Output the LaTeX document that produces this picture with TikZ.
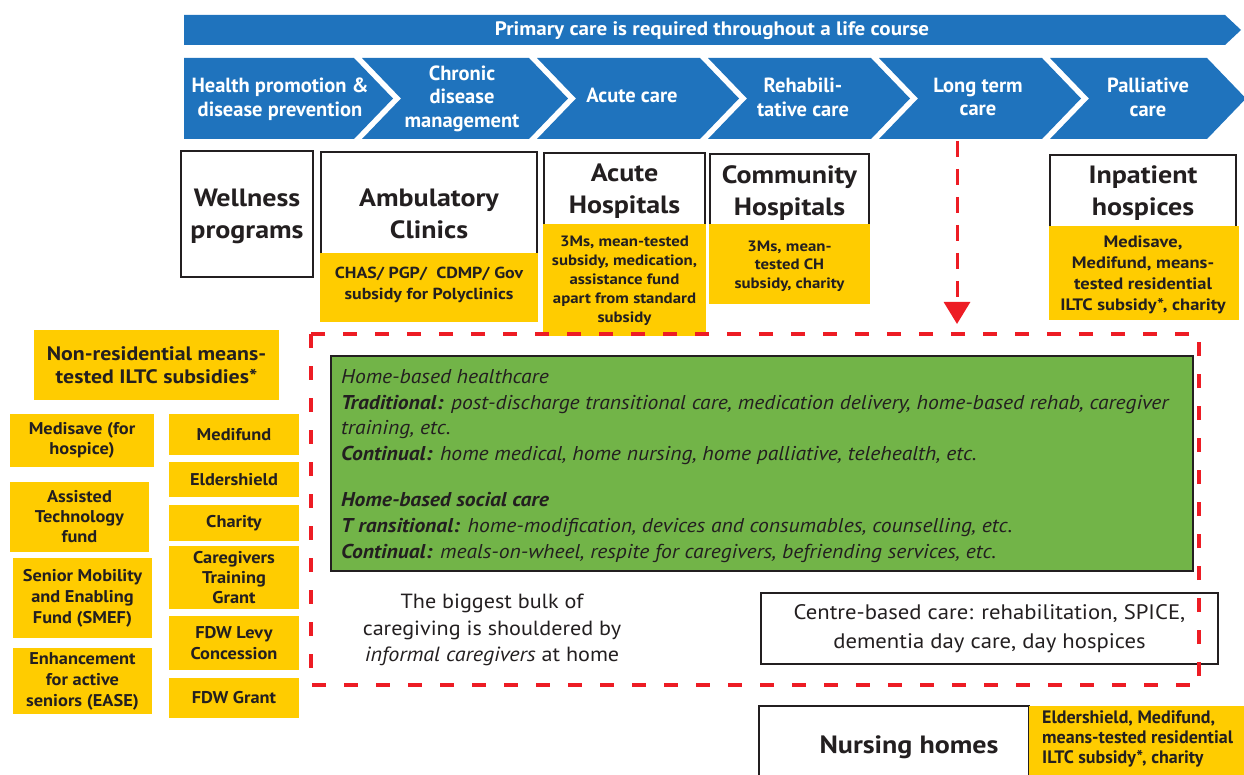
\documentclass[tikz,border=0pt]{standalone}
\usepackage{fontspec}
\setmainfont{PT Sans}
\newfontfamily\wfont[FakeStretch=1.12]{PT Sans}
\newfontfamily\mfont[FakeStretch=1.08]{PT Sans}
\usetikzlibrary{arrows.meta}
\definecolor{cblue}{RGB}{31,115,189}
\definecolor{cyel}{RGB}{255,204,0}
\definecolor{cgreen}{RGB}{114,180,72}
\definecolor{cred}{RGB}{237,28,36}
\definecolor{ctext}{RGB}{35,31,32}
\newcommand{\fs}[2]{\fontsize{#1}{#2}\selectfont}
\newcommand{\rbox}[7]{%
  \pgfmathsetmacro{\rbcx}{(#3+#5)/2}%
  \pgfmathsetmacro{\rbcy}{(#4+#6)/2}%
  \pgfmathsetmacro{\rbw}{#5-#3}%
  \pgfmathsetmacro{\rbh}{#6-#4}%
  \node[#2,minimum width=\rbw pt,minimum height=\rbh pt] (#1) at (\rbcx,\rbcy) {#7};%
}
\tikzset{
  chevshape/.style={fill=cblue},
  chevlabel/.style={text=white,font=\bfseries\fs{20.5}{23.5},align=center,inner sep=0pt},
  titlebox/.style={draw=ctext,line width=2.6pt,fill=white,inner sep=0pt},
  titletext/.style={text=ctext,font=\wfont\bfseries\fs{25}{32},align=center,inner sep=0pt},
  paybox/.style={fill=cyel,inner sep=0pt,text=ctext,align=center},
  paytext/.style={text=ctext,align=center,inner sep=0pt},
  greenbox/.style={fill=cgreen,draw=ctext,line width=2pt},
  gline/.style={anchor=base west,inner sep=0pt,text=ctext,font=\mfont\itshape\fs{20}{25}},
  reddash/.style={draw=cred,line width=4.5pt,dash pattern=on 14pt off 18pt},
}
\begin{document}
\begin{tikzpicture}[x=1pt,y=-1pt]
\useasboundingbox (0,0) rectangle (1244,775);
\clip (0,0) rectangle (1244,775);
% banner
\path[chevshape] (184,15) -- (1225,15) -- (1241,30) -- (1225,45) -- (184,45) -- cycle;
\node[text=white,font=\mfont\bfseries\fs{19.5}{22},anchor=base,inner sep=0pt] (banner) at (712,35.5) {Primary care is required throughout a life course};
% chevrons
\path[chevshape] (184,58) -- (354,58) -- (393,98.5) -- (354,139) -- (184,139) -- cycle;
\foreach \a/\b in {362/529,537/700,708/871,879/1042,1050/1207}{
  \path[chevshape] (\a,58) -- (\b,58) -- (\b+39,98.5) -- (\b,139) -- (\a,139) -- (\a+39,98.5) -- cycle;
}
\node[chevlabel] (c1) at (280,99.2) {Health promotion \&\\disease prevention};
\node[chevlabel] (c2) at (462,98.7) {Chronic\\disease\\management};
\node[chevlabel,anchor=base] (c3) at (632,103) {Acute care};
\node[chevlabel] (c4) at (803,97.2) {Rehabili-\\tative care};
\node[chevlabel] (c5) at (978,97.2) {Long term\\care};
\node[chevlabel] (c6) at (1148,97.2) {Palliative\\care};
% settings row
\rbox{wel}{titlebox}{181}{151}{313}{277}{}
\node[titletext] (welt) at (247,216) {Wellness\\programs};
\rbox{amb}{titlebox}{321}{152}{537}{255}{}
\rbox{ambp}{paybox}{319.7}{253}{538.3}{322}{}
\node[titletext] (ambt) at (429,213.4) {Ambulatory\\Clinics};
\node[paytext,font=\wfont\bfseries\fs{16}{21}] (ambpt) at (429,285.4) {CHAS/ PGP/\ \ CDMP/ Gov\\subsidy for Polyclinics};
\rbox{acu}{titlebox}{544}{153}{705}{226}{}
\rbox{acup}{paybox}{542.7}{224}{706.3}{336}{}
\node[titletext] (acut) at (624.5,191.2) {Acute\\Hospitals};
\node[paytext,font=\wfont\bfseries\fs{15}{19}] (acupt) at (624.5,280.6) {3Ms, mean-tested\\subsidy, medication,\\assistance fund\\apart from standard\\subsidy};
\rbox{com}{titlebox}{710}{154}{869}{226}{}
\rbox{comp}{paybox}{708.7}{224}{870.3}{304}{}
\node[titletext] (comt) at (789.5,193.2) {Community\\Hospitals};
\node[paytext,font=\wfont\bfseries\fs{15}{18.5}] (compt) at (789.5,266) {3Ms, mean-\\tested CH\\subsidy, charity};
\rbox{inp}{titlebox}{1050}{155}{1236}{228}{}
\rbox{inpp}{paybox}{1048.7}{226}{1238.5}{320}{}
\node[titletext] (inpt) at (1143,193.2) {Inpatient\\hospices};
\node[paytext,font=\wfont\bfseries\fs{16.5}{21}] (inppt) at (1143,274.4) {Medisave,\\Medifund, means-\\tested residential\\ILTC subsidy*, charity};
% left column
\rbox{nr}{paybox,font=\wfont\bfseries\fs{19.5}{23.5}}{34}{330}{279}{400}{Non-residential means-\\tested ILTC subsidies*}
\rbox{l1}{paybox,font=\mfont\bfseries\fs{17}{20}}{10}{414}{154}{467}{Medisave (for\\hospice)}
\rbox{l2}{paybox,font=\mfont\bfseries\fs{17}{20}}{10}{482}{149}{552}{Assisted\\Technology\\fund}
\rbox{l3}{paybox,font=\mfont\bfseries\fs{17}{21}}{13}{558}{152}{638}{Senior Mobility\\and Enabling\\Fund (SMEF)}
\rbox{l4}{paybox,font=\mfont\bfseries\fs{17}{21}}{13}{648}{152}{714}{Enhancement\\for active\\seniors (EASE)}
\rbox{r1}{paybox,font=\mfont\bfseries\fs{17}{20}}{169}{414}{299}{455}{Medifund}
\rbox{r2}{paybox,font=\mfont\bfseries\fs{17}{20}}{169}{462}{299}{497}{Eldershield}
\rbox{r3}{paybox,font=\mfont\bfseries\fs{17}{20}}{169}{505}{299}{541}{Charity}
\rbox{r4}{paybox,font=\mfont\bfseries\fs{17}{20}}{169}{546}{299}{609}{Caregivers\\Training\\Grant}
\rbox{r5}{paybox,font=\mfont\bfseries\fs{17}{20.5}}{169}{616}{299}{670}{FDW Levy\\Concession}
\rbox{r6}{paybox,font=\mfont\bfseries\fs{17}{20}}{169}{678}{299}{718}{FDW Grant}
% home-based care
\rbox{green}{greenbox}{331}{356}{1193}{571}{}
\node[gline] (g1) at (341,383) {Home-based healthcare};
\node[gline] (g2) at (341,409) {{\bfseries Traditional:} post-discharge transitional care, medication delivery, home-based rehab, caregiver};
\node[gline] (g3) at (341,434) {training, etc.};
\node[gline] (g4) at (341,460) {{\bfseries Continual:} home medical, home nursing, home palliative, telehealth, etc.};
\node[gline] (g5) at (341,506) {{\bfseries Home-based social care}};
\node[gline] (g6) at (341,532) {{\bfseries T ransitional:} home-modification, devices and consumables, counselling, etc.};
\node[gline] (g7) at (341,558) {{\bfseries Continual:} meals-on-wheel, respite for caregivers, befriending services, etc.};
\node[text=ctext,font=\mfont\fs{20.5}{26.5},align=center,inner sep=0pt] (bulk) at (492,630) {The biggest bulk of\\caregiving is shouldered by\\\textit{informal caregivers} at home};
\rbox{centre}{draw=ctext,line width=2.5pt,fill=white,inner sep=0pt,text=ctext,align=center,font=\mfont\fs{21}{29}}{761}{593}{1218}{664}{Centre-based care: rehabilitation, SPICE,\\dementia day care, day hospices}
% nursing homes
\rbox{nh}{titlebox}{759}{706}{1029}{800}{}
\rbox{nhp}{paybox}{1029}{706}{1250}{800}{}
\node[titletext,anchor=base] (nht) at (909,753) {Nursing homes};
\node[paytext,align=left,anchor=north west,font=\bfseries\fs{18}{20}] (nhpt) at (1042,710) {Eldershield, Medifund,\\means-tested residential\\ILTC subsidy*, charity};
% red dashed region and arrow
\draw[reddash] (311,334) rectangle (1199,685);
\coordinate (ltcbot) at (957,141);
\coordinate (rtop) at (957,324);
\draw[draw=cred,line width=3pt,dash pattern=on 16pt off 12pt,-{Triangle[width=26pt,length=22pt]}] (ltcbot) -- (rtop);
\end{tikzpicture}
\end{document}
